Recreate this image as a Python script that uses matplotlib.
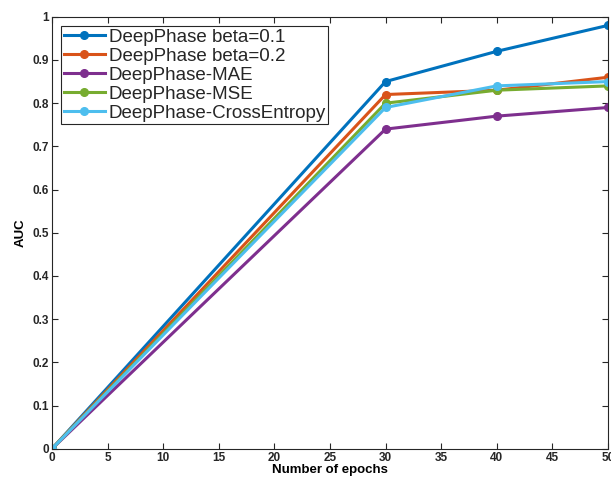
import matplotlib
matplotlib.use('Agg')
import matplotlib.pyplot as plt

plt.rcParams['font.family'] = ['Liberation Sans', 'DejaVu Sans']

epochs = [0, 30, 40, 50]
beta01 = [0, 0.85, 0.92, 0.98]
beta02 = [0, 0.82, 0.83, 0.86]
mae = [0, 0.74, 0.77, 0.79]
mse = [0, 0.80, 0.83, 0.84]
cross_entropy = [0, 0.79, 0.84, 0.85]

labels = ['DeepPhase beta=0.1', 'DeepPhase beta=0.2', 'DeepPhase-MAE',
          'DeepPhase-MSE', 'DeepPhase-CrossEntropy']
colors = ['#0072BD', '#D95319', '#7E2F8E', '#77AC30', '#4DBEEE']
series = [beta01, beta02, mae, mse, cross_entropy]

fig = plt.figure(figsize=(6.11, 4.79), dpi=100)
ax = fig.add_axes([0.085, 0.063, 0.91, 0.902])

for vals, lab, col in zip(series, labels, colors):
    ax.plot(epochs, vals, '-o', color=col, lw=2.2, ms=5.5, label=lab)

ax.set_xlim(0, 50)
ax.set_ylim(0, 1)
ax.set_xticks(range(0, 51, 5))
ax.set_yticks([i / 10 for i in range(11)])
ax.set_yticklabels(['0', '0.1', '0.2', '0.3', '0.4', '0.5', '0.6', '0.7', '0.8', '0.9', '1'])
ax.tick_params(direction='in', top=True, right=True, labelsize=8.5, length=4,
               color='#262626', pad=2)
for lab in ax.get_xticklabels() + ax.get_yticklabels():
    lab.set_fontweight('bold')
    lab.set_color('#262626')
for sp in ax.spines.values():
    sp.set_color('#262626')
    sp.set_linewidth(0.8)

ax.set_xlabel('Number of epochs', fontsize=9.5, fontweight='bold', labelpad=0)
ax.set_ylabel('AUC', fontsize=9.5, fontweight='bold', labelpad=4)

leg = ax.legend(loc='upper left', fontsize=13.5, fancybox=False, framealpha=1,
                edgecolor='#262626', borderpad=0.12, labelspacing=0.1,
                handlelength=2.2, handletextpad=0.2, borderaxespad=0.5)
leg.get_frame().set_linewidth(0.8)
for t in leg.get_texts():
    t.set_color('#262626')

fig.savefig('out.png', dpi=100)
